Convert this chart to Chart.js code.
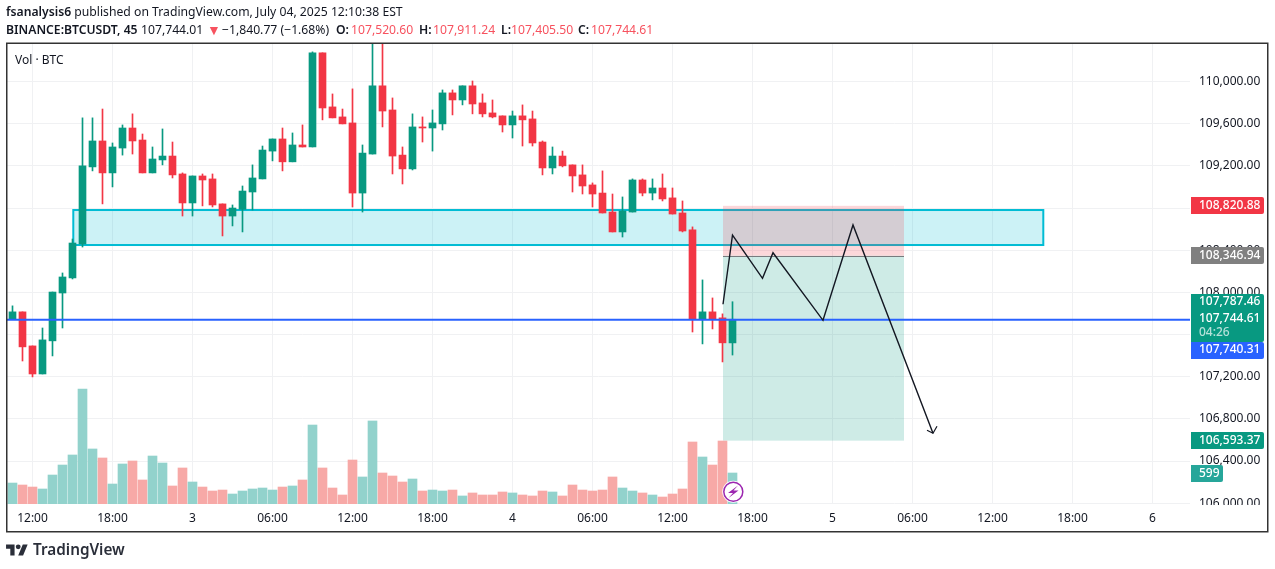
<!DOCTYPE html>
<html>
<head>
<meta charset="utf-8">
<title>BTCUSDT 45</title>
<script src="https://cdn.jsdelivr.net/npm/chart.js@4/dist/chart.umd.min.js"></script>
<style>
  html,body{margin:0;padding:0;background:#fff;}
  body{width:1275px;height:569px;overflow:hidden;position:relative;font-family:"Noto Sans",sans-serif;color:#131722;}
  canvas{position:absolute;left:0;top:0;}
  .line{position:absolute;left:6px;font-size:12.2px;line-height:16px;white-space:nowrap;}
  .line b{font-weight:600;}
  .hd{position:absolute;top:22px;font-size:12.2px;line-height:16px;white-space:nowrap;}
  .hd.b{font-weight:600;}
  .down{color:#F7525F;}
  #vol{position:absolute;left:15px;top:52px;font-size:12px;line-height:16px;}
  #logo{position:absolute;left:6px;top:539px;display:flex;align-items:center;gap:5px;font-size:15.3px;font-weight:600;color:#2a2e39;}
</style>
</head>
<body>
<canvas id="chart" width="1275" height="569"></canvas>
<div class="line" style="top:4px"><b>fsanalysis6</b> published on TradingView.com, July 04, 2025 12:10:38 EST</div>
<span class="hd b" style="left:6px">BINANCE:BTCUSDT, 45</span>
<span class="hd" style="left:141px">107,744.01</span>
<span class="hd down" style="left:207px;font-size:14px;line-height:15px">▼</span>
<span class="hd" style="left:222px">−1,840.77 (−1.68%)</span>
<span class="hd b" style="left:336px">O:</span><span class="hd down" style="left:351px">107,520.60</span>
<span class="hd b" style="left:419px">H:</span><span class="hd down" style="left:433px">107,911.24</span>
<span class="hd b" style="left:501px">L:</span><span class="hd down" style="left:511px">107,405.50</span>
<span class="hd b" style="left:578px">C:</span><span class="hd down" style="left:591px">107,744.61</span>
<div id="vol">Vol · BTC</div>
<div id="logo"><svg width="22" height="14" viewBox="0 0 36 23" fill="#2a2e39"><path d="M14 22H7V11H0V4h14v18zM28 22h-8l7.5-18h8L28 22z"/><circle cx="20" cy="8" r="4"/></svg><span>TradingView</span></div>
<script>
const opens = [107748,107815,107492,107226,107540,107994,108137,108459,109190,109436,109133,109369,109559,109445,109133,109256,109293,109123,108848,109104,109076,108839,108724,108788,108952,109076,109340,109455,109238,109398,109379,110272,109759,109664,109607,108942,109312,109959,109730,109302,109171,109569,109559,109598,109892,109825,109959,109797,109702,109674,109588,109674,109645,109426,109180,109293,109209,109114,109019,108942,108762,108573,108762,109066,108942,108990,108896,108753,108592,107748,107815,107758,107520.60];
const highs = [107872,107815,107492,107662,108003,108184,108506,109655,109655,109739,109417,109588,109693,109502,109379,109550,109426,109133,109104,109123,109123,108839,108829,109009,109209,109388,109455,109559,109512,109588,110281,110272,109882,109739,109930,109398,110500,110500,109844,109379,109693,109664,109730,109920,109920,109959,110005,109882,109825,109674,109720,109778,109720,109436,109379,109340,109209,109209,109038,109152,108933,108905,109076,109076,109076,109123,108990,108867,108621,108118,107947,107796,107911.24];
const lows = [107748,107349,107198,107226,107397,107662,108127,108430,109152,108839,109000,109302,109312,109133,109133,109209,109085,108724,108724,108820,108810,108535,108630,108573,108781,109076,109247,109152,109238,109379,109379,109636,109655,109598,108810,108762,109312,109569,109123,109028,109161,109426,109340,109540,109683,109778,109693,109664,109655,109521,109464,109388,109388,109114,109123,109190,108952,108933,108810,108753,108573,108525,108762,108915,108877,108867,108743,108573,107624,107511,107653,107340,107405.50];
const closes = [107815,107483,107226,107549,108003,108146,108468,109200,109436,109133,109379,109559,109436,109133,109265,109293,109114,108848,109104,109066,108829,108724,108800,108961,109085,109350,109455,109238,109398,109379,110272,109749,109655,109598,108942,109321,109959,109720,109293,109171,109569,109559,109607,109892,109825,109959,109787,109693,109664,109588,109674,109636,109417,109180,109293,109200,109104,109009,108933,108753,108573,108772,109066,108942,108990,108886,108743,108582,107748,107815,107748,107521,107744.61];
const volumes = [405,367,328,290,560,753,947,2222,1063,889,386,773,831,464,927,792,348,696,425,328,251,270,193,251,290,309,270,328,348,464,1526,696,309,174,850,522,1604,599,541,425,483,251,270,251,270,155,213,174,174,232,213,174,155,251,232,155,367,270,251,270,522,309,251,213,174,135,193,290,1198,908,753,1217,599];

const priceTicks = [110000,109600,109200,108800,108400,108000,107600,107200,106800,106400,106000];
const timeTicks = [2,10,18,26,34,42,50,58,66,74,82,90,98,106,114];
const timeLabels = ["12:00","18:00","3","06:00","12:00","18:00","4","06:00","12:00","18:00","5","06:00","12:00","18:00","6"];

const lastLevel = 107740.31;
const zoneBars = [6.08,103.08];
const zonePrices = [108781,108449];
const positionBars = [71.05,89.15];
const stopPrice = 108820.88;
const entryPrice = 108346.94;
const targetPrice = 106593.37;
const pathBars = [71.05,72,75,76.05,81.05,84.05,92.05];
const pathPrices = [107887,108544,108133,108376,107735,108639,106663];

const tagPrices = [108820.88,108346.94,107787.46,107744.61,107740.31,106593.37];
const countdown = "04:26";
const lastVolume = 599;

const UP = "#089981", DOWN = "#F23645", VOL_UP = "#92D2CC", VOL_DOWN = "#F7A9A7";
const GRID = "#F0F1F3", TEXT = "#131722";
const FONT = '"Noto Sans", sans-serif';

function fmt(n){
  return n.toLocaleString("en-US",{minimumFractionDigits:2,maximumFractionDigits:2});
}
function isUp(i){ return closes[i] >= opens[i]; }

// drawings that sit under the candles
const boxesPlugin = {
  id:"boxes",
  beforeDatasetsDraw(chart){
    const {ctx, scales:{x,y}} = chart;
    function rect(bars, a, b, fill){
      const l = x.getPixelForValue(bars[0]), r = x.getPixelForValue(bars[1]);
      const t = y.getPixelForValue(a), h = y.getPixelForValue(b) - t;
      ctx.fillStyle = fill;
      ctx.fillRect(l,t,r-l,h);
      return [l,t,r-l,h];
    }
    ctx.save();
    const z = rect(zoneBars, zonePrices[0], zonePrices[1], "rgba(0,188,212,0.2)");
    ctx.strokeStyle = "#00BCD4"; ctx.lineWidth = 2;
    ctx.strokeRect(z[0],z[1],z[2],z[3]);
    rect(positionBars, stopPrice, entryPrice, "rgba(242,54,69,0.2)");
    rect(positionBars, entryPrice, targetPrice, "rgba(8,153,129,0.2)");
    const ey = Math.round(y.getPixelForValue(entryPrice)) + 0.5;
    ctx.strokeStyle = "#787B7E"; ctx.lineWidth = 1;
    ctx.beginPath();
    ctx.moveTo(x.getPixelForValue(positionBars[0]),ey);
    ctx.lineTo(x.getPixelForValue(positionBars[1]),ey);
    ctx.stroke();
    ctx.restore();
  }
};

// arrow head, price tags, frame, lightning badge
const overlayPlugin = {
  id:"overlay",
  afterDraw(chart){
    const {ctx, scales:{x,y}} = chart;
    ctx.save();

    const n = pathBars.length - 1;
    const ax = x.getPixelForValue(pathBars[n]), ay = y.getPixelForValue(pathPrices[n]);
    ctx.strokeStyle = TEXT; ctx.lineWidth = 1.2;
    ctx.beginPath();
    ctx.moveTo(ax-6,ay-3); ctx.lineTo(ax,ay); ctx.lineTo(ax+4,ay-7);
    ctx.stroke();

    // hide the bottom of the last tick label, it is cut by the time axis
    ctx.fillStyle = "#fff";
    ctx.fillRect(1191,505,76,12);

    function tag(top, h, w, fill){
      ctx.fillStyle = fill;
      ctx.beginPath();
      ctx.roundRect(1191,top,w,h,[0,2,2,0]);
      ctx.fill();
    }
    function label(txt, cy, color){
      ctx.fillStyle = color || "#fff";
      ctx.font = "500 12px " + FONT;
      ctx.textBaseline = "middle";
      ctx.fillText(txt,1199,cy);
    }
    tag(197,17,73,DOWN); label(fmt(tagPrices[0]),205.5);
    tag(247,17,73,"#808080"); label(fmt(tagPrices[1]),255.5);
    tag(294,48,73,UP); label(fmt(tagPrices[2]),302); label(fmt(tagPrices[3]),319); label(countdown,333,"rgba(255,255,255,0.7)");
    tag(342,17,73,"#2962FF"); label(fmt(tagPrices[4]),350);
    tag(432,17,73,UP); label(fmt(tagPrices[5]),440.5);
    tag(465,17,32,"#26A69A"); label(String(lastVolume),473.5);

    // lightning badge
    ctx.beginPath(); ctx.arc(733.3,491.7,11,0,Math.PI*2); ctx.fillStyle = "#fff"; ctx.fill();
    ctx.beginPath(); ctx.arc(733.3,491.7,9.5,0,Math.PI*2); ctx.strokeStyle = "#9C27B0"; ctx.lineWidth = 1.5; ctx.stroke();
    ctx.beginPath();
    ctx.moveTo(738,485.5); ctx.lineTo(728,493); ctx.lineTo(733,493); ctx.lineTo(728.5,498); ctx.lineTo(738.5,490.5); ctx.lineTo(733.5,490.5);
    ctx.closePath(); ctx.fillStyle = "#9C27B0"; ctx.fill();

    ctx.strokeStyle = "#333"; ctx.lineWidth = 1.5;
    ctx.strokeRect(6.75,43.25,1261,488.5);
    ctx.restore();
  }
};

const allIdx = opens.map((_,i)=>i);

new Chart(document.getElementById("chart"),{
  type:"bar",
  data:{
    datasets:[
      {
        type:"line", label:"path", order:1,
        data:pathBars.map((b,i)=>({x:b,y:pathPrices[i]})),
        borderColor:TEXT, borderWidth:1.4, pointRadius:0, tension:0, fill:false
      },
      {
        type:"line", label:"last", order:2,
        data:[{x:-0.55,y:lastLevel},{x:117.75,y:lastLevel}],
        borderColor:"#2962FF", borderWidth:2, pointRadius:0, fill:false
      },
      {
        label:"body", order:3, yAxisID:"y",
        data:allIdx.map(i=>({x:i,y:[opens[i],closes[i]]})),
        backgroundColor:c=>isUp(c.dataIndex)?UP:DOWN,
        barThickness:7, grouped:false
      },
      {
        label:"wick", order:4, yAxisID:"y",
        data:allIdx.map(i=>({x:i,y:[lows[i],highs[i]]})),
        backgroundColor:c=>isUp(c.dataIndex)?UP:DOWN,
        barThickness:1, grouped:false
      },
      {
        label:"volume", order:5, yAxisID:"vol",
        data:allIdx.map(i=>({x:i,y:volumes[i]})),
        backgroundColor:c=>isUp(c.dataIndex)?VOL_UP:VOL_DOWN,
        barThickness:9, grouped:false
      }
    ]
  },
  options:{
    responsive:false,
    animation:false,
    layout:{padding:{left:7,top:44,right:7,bottom:37}},
    plugins:{legend:{display:false},tooltip:{enabled:false}},
    scales:{
      x:{
        type:"linear", min:-0.55, max:117.75, offset:false,
        afterBuildTicks:a=>{a.ticks = timeTicks.map(v=>({value:v}));},
        afterFit:a=>{a.height = 28;},
        border:{display:false},
        grid:{color:GRID,drawTicks:false,offset:false},
        ticks:{
          autoSkip:false, maxRotation:0, padding:7, color:TEXT,
          font:{family:FONT,size:12},
          callback:v=>timeLabels[timeTicks.indexOf(v)]
        }
      },
      y:{
        position:"right", min:105992.6, max:110355.7,
        afterBuildTicks:a=>{a.ticks = priceTicks.map(v=>({value:v}));},
        afterFit:a=>{a.width = 78;},
        border:{display:false},
        grid:{color:GRID,drawTicks:false},
        ticks:{
          padding:9, color:TEXT, autoSkip:false,
          font:{family:FONT,size:12},
          callback:v=>fmt(v)
        }
      },
      vol:{display:false, min:0, max:8887}
    }
  },
  plugins:[boxesPlugin,overlayPlugin]
});
</script>
</body>
</html>
